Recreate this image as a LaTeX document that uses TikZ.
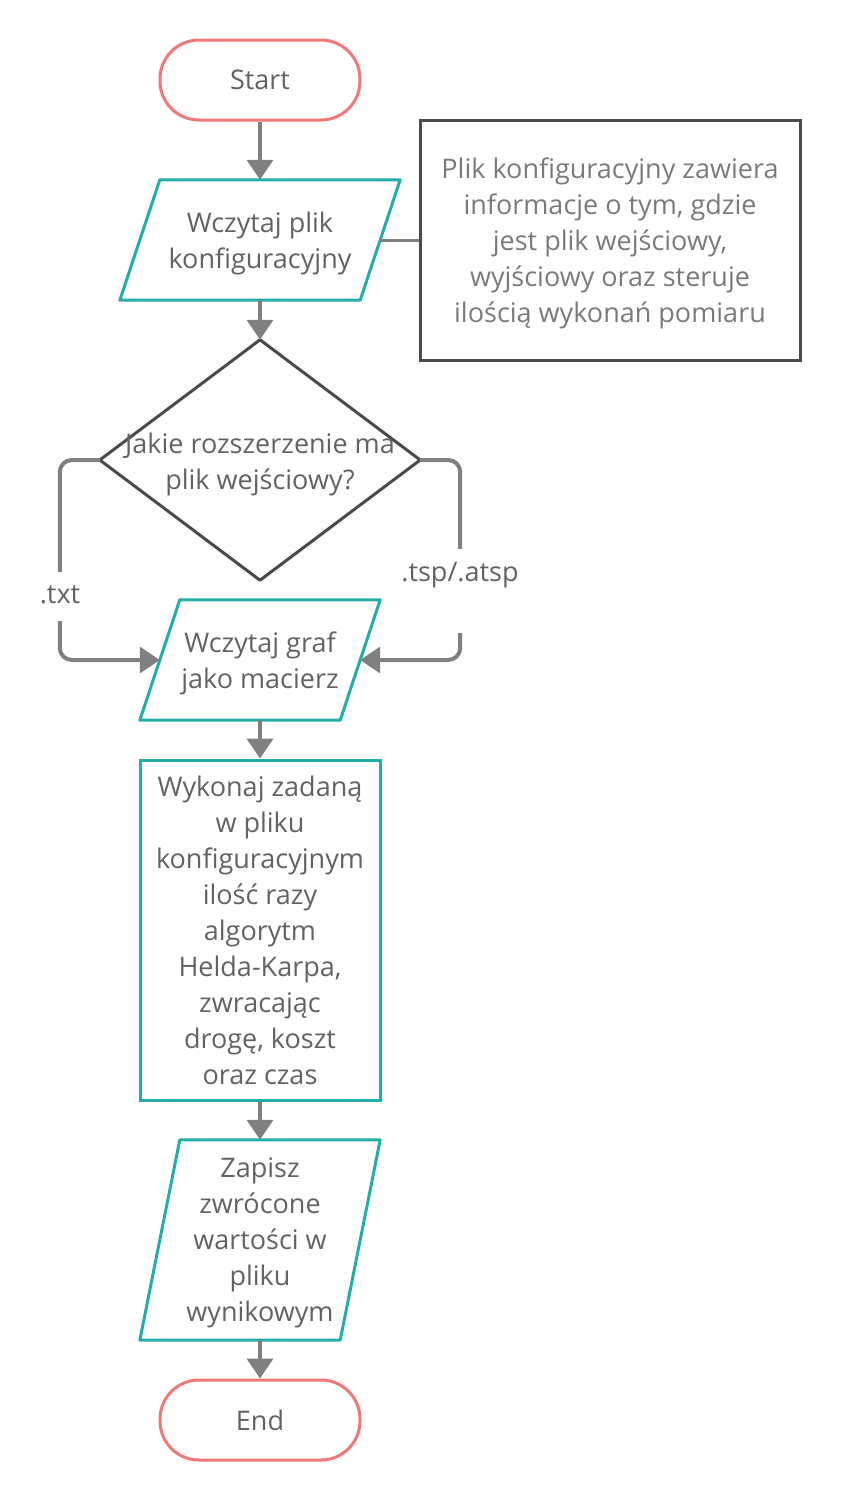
\documentclass[tikz,border=0pt]{standalone}
\usepackage{fontspec}
\setmainfont{Open Sans}
\usetikzlibrary{arrows.meta,calc}
\definecolor{tealc}{RGB}{34,173,169}
\definecolor{redc}{RGB}{242,119,119}
\definecolor{arrowc}{RGB}{128,128,128}
\definecolor{darkc}{RGB}{74,74,74}
\definecolor{txtc}{RGB}{98,98,98}
\definecolor{notec}{RGB}{122,122,122}
\begin{document}
\begin{tikzpicture}[x=1pt,y=-1pt,
  every node/.style={font=\fontsize{27}{36}\selectfont, text=txtc, align=center, inner sep=0pt, text depth=0pt},
  term/.style={draw=redc, line width=3pt, rounded corners=39pt, minimum width=200pt, minimum height=80pt},
  frame/.style 2 args={minimum width=#1, minimum height=#2},
  procbox/.style={draw=tealc, line width=3pt},
  outline/.style={draw=tealc, line width=3pt, line join=round},
  flow/.style={draw=arrowc, line width=4pt, -{Triangle[length=20pt,width=26pt]}},
  branch/.style={flow, rounded corners=12pt},
  lbl/.style={fill=white, anchor=base, text=txtc},
]
\useasboundingbox (0,0) rectangle (841,1500);

% nodes
\node[term] (start) at (260,80) {Start};
\node[frame={280pt}{120pt}] (p1) at (260,240) {Wczytaj plik\\konfiguracyjny};
\node[frame={380pt}{240pt}, draw=darkc, line width=3pt, text=notec] (note) at (610,240)
  {Plik konfiguracyjny zawiera\\informacje o tym, gdzie\\jest plik wejściowy,\\wyjściowy oraz steruje\\ilością wykonań pomiaru};
\node[frame={320pt}{240pt}] (dia) at (260,460) {};
\node[frame={240pt}{120pt}] (p2) at (260,660) {Wczytaj graf\\jako macierz};
\node[frame={240pt}{340pt}, procbox] (exec) at (260,930)
  {Wykonaj zadaną\\w pliku\\konfiguracyjnym\\ilość razy\\algorytm\\Helda-Karpa,\\zwracając\\drogę, koszt\\oraz czas};
\node[frame={240pt}{200pt}] (p3) at (260,1240) {Zapisz\\zwrócone\\wartości w\\pliku\\wynikowym};
\node[term] (end) at (260,1420) {End};

% outlines
\draw[outline] ($(p1.north west)+(40,0)$) -- (p1.north east) -- ($(p1.south east)+(-40,0)$) -- (p1.south west) -- cycle;
\draw[outline] ($(p2.north west)+(40,0)$) -- (p2.north east) -- ($(p2.south east)+(-40,0)$) -- (p2.south west) -- cycle;
\draw[outline] ($(p3.north west)+(40,0)$) -- (p3.north east) -- ($(p3.south east)+(-40,0)$) -- (p3.south west) -- cycle;
\draw[draw=darkc, line width=3pt, line join=round] (dia.north) -- (dia.east) -- (dia.south) -- (dia.west) -- cycle;
\node (diatext) at (260,461) {Jakie rozszerzenie ma\\plik wejściowy?};

% connectors
\draw[flow] (start) -- (p1);
\draw[draw=arrowc, line width=3pt] ($(p1.east)+(-20,0)$) -- (note.west);
\draw[flow] (p1) -- (dia.north);
\draw[branch] (dia.west) -- ++(-40,0) |- ($(p2.west)+(20,0)$);
\draw[branch] (dia.east) -- ++(40,0) |- ($(p2.east)+(-20,0)$);
\draw[flow] (p2) -- (exec);
\draw[flow] (exec) -- (p3);
\draw[flow] (p3) -- (end);

% labels
\node[lbl, text height=31pt, text depth=18pt] (ltxt) at (60,603) {.txt};
\node[lbl, text height=32pt, text depth=52pt] (ltsp) at (460,581) {.tsp/.atsp};
\end{tikzpicture}
\end{document}
